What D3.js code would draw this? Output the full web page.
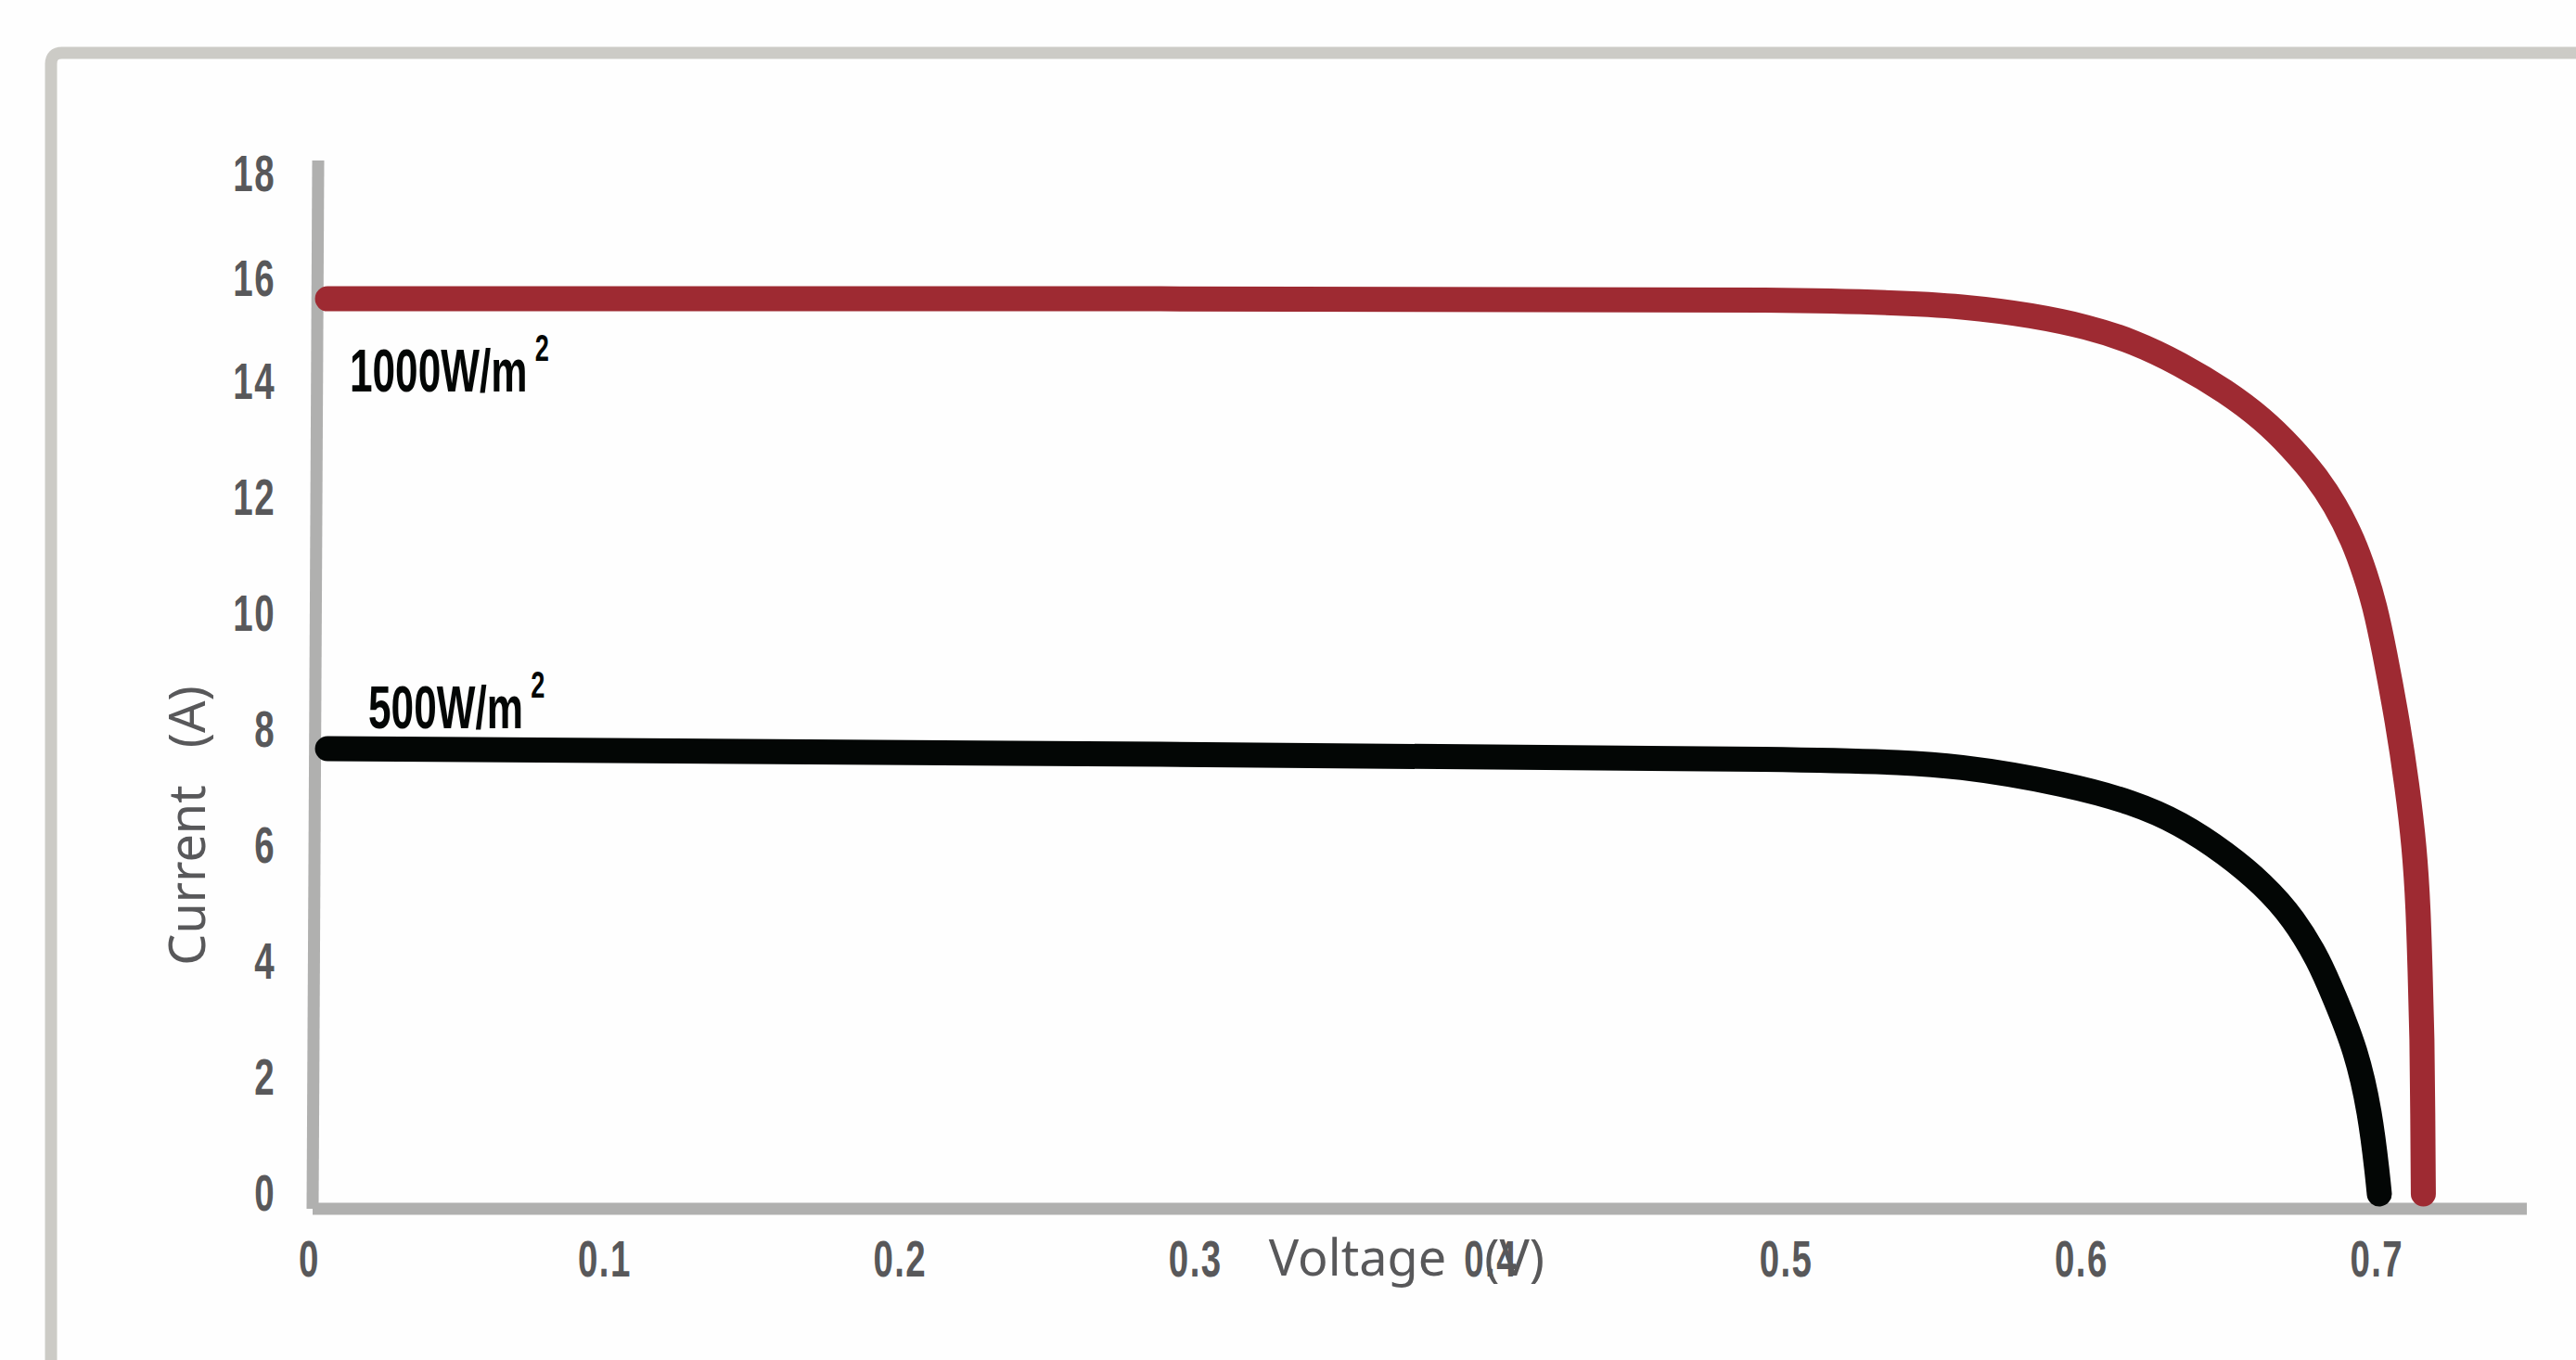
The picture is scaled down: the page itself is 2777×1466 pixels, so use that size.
<!DOCTYPE html>
<html>
<head>
<meta charset="utf-8">
<script src="https://cdn.jsdelivr.net/npm/d3@7"></script>
<style>
  body { margin: 0; background: #fefefe; }
  svg { display: block; }
  .tick text {
    font-family: 'Liberation Sans', Arial, sans-serif;
    font-weight: bold;
    font-size: 55px;
    fill: #58585a;
    letter-spacing: 2px;
  }
  .axis-title {
    font-family: 'Noto Sans', 'Open Sans', sans-serif;
    font-size: 54px;
    fill: #58585a;
  }
  .curve-label {
    font-family: 'Liberation Sans', Arial, sans-serif;
    font-weight: bold;
    font-size: 65px;
    fill: #030605;
  }
</style>
</head>
<body>
<svg width="2777" height="1466"></svg>
<script>
// Tick labels
const voltageTicks = [0, 0.1, 0.2, 0.3, 0.4, 0.5, 0.6, 0.7];
const currentTicks = [0, 2, 4, 6, 8, 10, 12, 14, 16, 18];

// I-V curve, 1000 W/m2 (voltage V, current A)
const voltage1000 = [0.0063, 0.3, 0.5236, 0.5628, 0.5832, 0.6021, 0.6178, 0.6335, 0.6492, 0.6617, 0.6712, 0.6796, 0.6859, 0.6922, 0.6963, 0.6994, 0.7026, 0.7073, 0.7104, 0.7129, 0.7142, 0.7148, 0.7155, 0.7157, 0.7159];
const current1000 = [15.62, 15.62, 15.62, 15.46, 15.3, 15.08, 14.79, 14.36, 13.84, 13.36, 12.88, 12.38, 11.9, 11.27, 10.68, 10.16, 9.4, 8.11, 7.04, 5.98, 4.91, 3.84, 2.68, 1.4, 0];

// I-V curve, 500 W/m2
const voltage500 = [0.0063, 0.3, 0.5236, 0.5597, 0.5958, 0.6178, 0.6335, 0.6492, 0.6617, 0.6721, 0.6806, 0.6856, 0.6932, 0.6979, 0.7004, 0.701];
const current500 = [7.68, 7.58, 7.5, 7.39, 7.06, 6.75, 6.4, 5.87, 5.34, 4.75, 4.02, 3.42, 2.48, 1.4, 0.32, 0];

// Curve labels (anchored in data units)
const labelNames = ['1000W/m', '500W/m'];
const labelVoltage = [0.0138, 0.0201];
const labelCurrent = [13.84, 8.03];

const svg = d3.select('svg');

const x = d3.scaleLinear().domain([0, 0.75]).range([333, 2721]);
// the printed current axis is stretched a little above 14 A
const y = d3.scaleLinear().domain([0, 14, 16, 18]).range([1287, 412, 301, 188]);

// condensed look for the tick and curve labels
const tickSqueeze = 0.7;
const labelSqueeze = 0.68;

// Outer frame (open to the right and bottom)
svg.append('path')
  .attr('d', 'M55,1490 V69 Q55,57 67,57 H2800')
  .attr('fill', 'none')
  .attr('stroke', '#cccbc6')
  .attr('stroke-width', 13);

// Axis lines
const axisY = y(0) + 16;
svg.append('path')
  .attr('d', `M${x(0) + 10},${y(18) - 15} L${x(0) + 4},${axisY}`)
  .attr('stroke', '#b0b0af')
  .attr('stroke-width', 13);
svg.append('path')
  .attr('d', `M${x(0) + 4},${axisY} H${x(0.75) + 3}`)
  .attr('stroke', '#b0b0af')
  .attr('stroke-width', 13);

// Y ticks
const gy = svg.append('g')
  .attr('transform', `translate(${x(0) + 8},0)`)
  .call(d3.axisLeft(y).tickValues(currentTicks).tickSize(0).tickFormat(d3.format('d')));
gy.select('.domain').remove();
gy.selectAll('text')
  .attr('transform', `scale(${tickSqueeze},1)`)
  .attr('x', -44 / tickSqueeze);

// X ticks
const gx = svg.append('g')
  .attr('transform', `translate(0,${axisY})`)
  .call(d3.axisBottom(x).tickValues(voltageTicks).tickSize(0).tickPadding(34).tickFormat(d3.format('~g')));
gx.select('.domain').remove();
gx.selectAll('text').attr('transform', `scale(${tickSqueeze},1)`);

// Axis titles
const cTitle = svg.append('text')
  .attr('class', 'axis-title')
  .attr('transform', 'translate(221,890) rotate(-90)')
  .attr('text-anchor', 'middle');
cTitle.append('tspan').text('Current');
cTitle.append('tspan').attr('dx', 40).text('(A)');

const vTitle = svg.append('text')
  .attr('class', 'axis-title')
  .attr('x', x(0.325))
  .attr('y', axisY + 72);
vTitle.append('tspan').text('Voltage');
vTitle.append('tspan').attr('dx', 41).text('(V)');

// Curves
const series = [
  { v: voltage1000, i: current1000, color: '#9e2a32' },
  { v: voltage500, i: current500, color: '#030605' }
];

const line = d3.line()
  .x(d => x(d[0]))
  .y(d => y(d[1]))
  .curve(d3.curveBasis);

svg.append('g')
  .selectAll('path')
  .data(series)
  .enter()
  .append('path')
  .attr('d', s => line(s.v.map((v, k) => [v, s.i[k]])))
  .attr('fill', 'none')
  .attr('stroke', s => s.color)
  .attr('stroke-width', 27)
  .attr('stroke-linecap', 'round')
  .attr('stroke-linejoin', 'round');

// Curve labels
const labels = svg.append('g')
  .selectAll('text')
  .data(labelNames)
  .enter()
  .append('text')
  .attr('class', 'curve-label')
  .attr('transform', (d, k) => `translate(${x(labelVoltage[k])},${y(labelCurrent[k])}) scale(${labelSqueeze},1)`);

labels.append('tspan').text(d => d);
labels.append('tspan')
  .attr('dx', 12)
  .attr('dy', -33)
  .attr('font-size', 40)
  .text('2');
</script>
</body>
</html>
